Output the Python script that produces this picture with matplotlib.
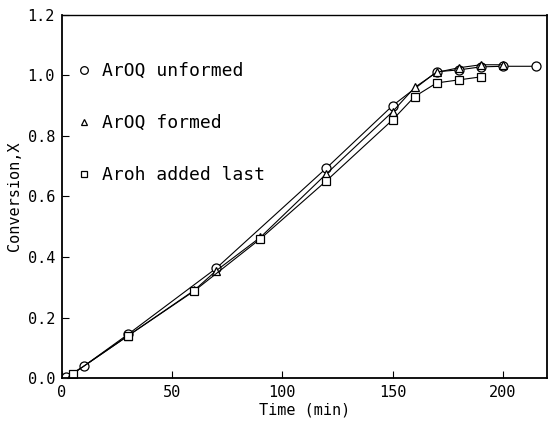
import matplotlib
matplotlib.use("Agg")
import matplotlib.pyplot as plt

t_unformed = [2, 10, 30, 70, 120, 150, 170, 180, 190, 200, 215]
x_unformed = [0.003, 0.04, 0.145, 0.363, 0.694, 0.9, 1.012, 1.018, 1.028, 1.03, 1.03]
t_formed = [4, 30, 60, 70, 90, 120, 150, 160, 170, 180, 190, 200]
x_formed = [0.01, 0.14, 0.29, 0.355, 0.465, 0.675, 0.88, 0.96, 1.01, 1.025, 1.035, 1.035]
t_last = [5, 30, 60, 90, 120, 150, 160, 170, 180, 190]
x_last = [0.015, 0.14, 0.288, 0.46, 0.652, 0.853, 0.93, 0.975, 0.985, 0.995]
labels = ["ArOQ unformed", "ArOQ formed", "Aroh added last"]
xticks = [0, 50, 100, 150, 200]
yticks = [0.0, 0.2, 0.4, 0.6, 0.8, 1.0, 1.2]

plt.rcParams['font.family'] = ['DejaVu Sans Mono']
fig = plt.figure(figsize=(5.48, 4.23), dpi=100)
ax = fig.add_axes([0.113, 0.106, 0.885, 0.859])

series = [(t_unformed, x_unformed, 'o'), (t_formed, x_formed, '^'), (t_last, x_last, 's')]
for (t, x, m), lab in zip(series, labels):
    ax.plot(t, x, color='black', lw=0.8, marker=m, ms=6.5 if m == 'o' else 5.5,
            mfc='white', mec='black', mew=0.9, label=lab)

ax.set_xlim(0, 220)
ax.set_ylim(0, 1.2)
ax.set_xticks(xticks)
ax.set_xticklabels([str(v) for v in xticks])
ax.set_yticks(yticks)
ax.set_yticklabels([f"{v:.1f}" for v in yticks])
ax.tick_params(direction='in', length=5, labelsize=11, pad=5)
for s in ax.spines.values():
    s.set_linewidth(1.3)
ax.spines['top'].set_linewidth(1.0)
ax.set_xlabel("Time (min)", fontsize=11, labelpad=2)
ax.set_ylabel("Conversion,X", fontsize=11, labelpad=4)

leg = ax.legend(loc='upper left', bbox_to_anchor=(0.012, 0.915), frameon=False, fontsize=13,
                handlelength=0, handletextpad=1.0, labelspacing=1.88, markerscale=0.85)
fig.savefig("out.png", dpi=100)
